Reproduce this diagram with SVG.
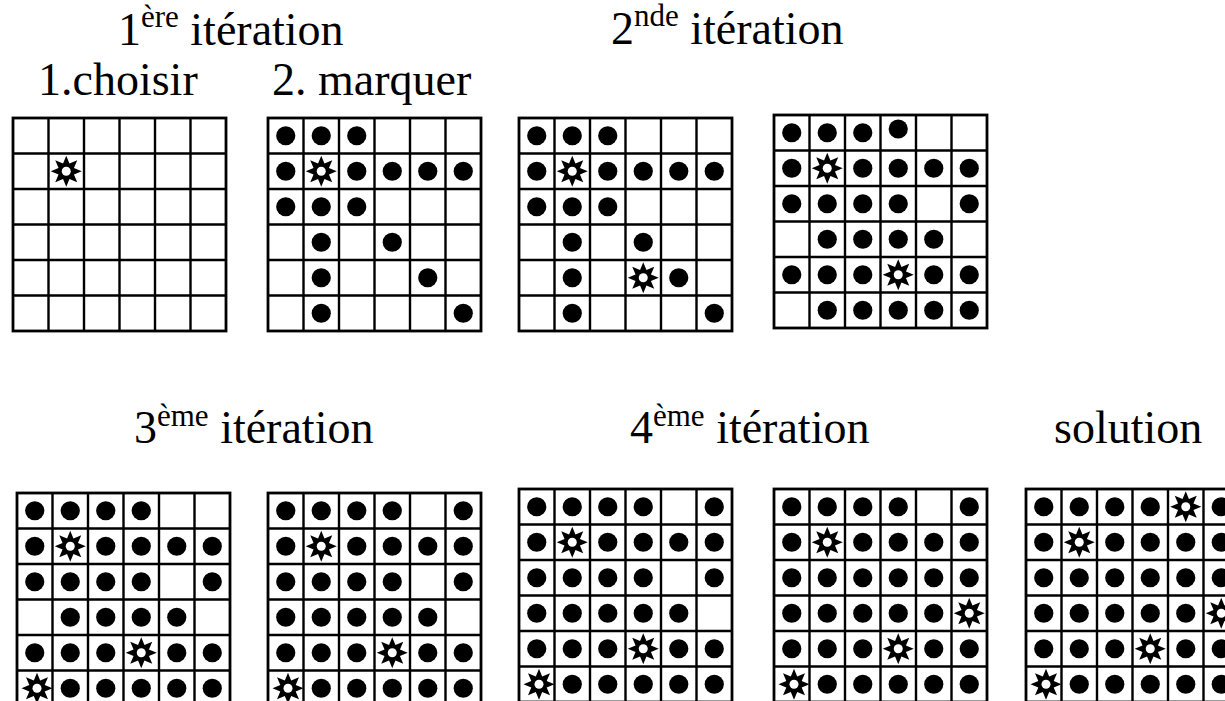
<svg xmlns="http://www.w3.org/2000/svg" width="1225" height="701" viewBox="0 0 1225 701">
<style>
text{font-family:'Liberation Serif','Times New Roman','DejaVu Serif',serif;font-size:46px;fill:#000}
.sup{font-size:31px}
.gl{fill:none;stroke:#000;stroke-width:2.4}
.frame{fill:#fff;stroke:#000;stroke-width:2.8}
</style>
<defs>
<g id="grid">
<rect class="frame" x="0" y="0" width="213" height="213"/>
<path class="gl" d="M35.5 0V213M71 0V213M106.5 0V213M142 0V213M177.5 0V213M0 35.5H213M0 71H213M0 106.5H213M0 142H213M0 177.5H213"/>
</g>
<circle id="d" cx="0" cy="0" r="9.6" fill="#000"/>
<g id="s">
<polygon fill="#000" points="0,-15.5 3.2,-7.7 11,-11 7.7,-3.2 15.5,0 7.7,3.2 11,11 3.2,7.7 0,15.5 -3.2,7.7 -11,11 -7.7,3.2 -15.5,0 -7.7,-3.2 -11,-11 -3.2,-7.7"/>
<circle cx="0" cy="0" r="4.5" fill="#fff"/>
</g>
</defs>

<g id="titles">
<text x="118" y="45">1<tspan class="sup" dy="-18">ère</tspan><tspan dy="18"> itération</tspan></text>
<text x="38" y="95">1.choisir</text>
<text x="272" y="95">2. marquer</text>
<text x="611" y="44">2<tspan class="sup" dy="-18">nde</tspan><tspan dy="18"> itération</tspan></text>
<text x="134" y="443">3<tspan class="sup" dy="-17">ème</tspan><tspan dy="17"> itération</tspan></text>
<text x="630" y="443">4<tspan class="sup" dy="-17">ème</tspan><tspan dy="17"> itération</tspan></text>
<text x="1054" y="443">solution</text>
</g>

<g id="g1" transform="translate(13,118)">
<use href="#grid"/>
<use href="#s" x="53.25" y="53.25"/>
</g>

<g id="g2" transform="translate(268,118)">
<use href="#grid"/>
<use href="#d" x="17.75" y="17.75"/><use href="#d" x="53.25" y="17.75"/><use href="#d" x="88.75" y="17.75"/>
<use href="#d" x="17.75" y="53.25"/><use href="#s" x="53.25" y="53.25"/><use href="#d" x="88.75" y="53.25"/><use href="#d" x="124.25" y="53.25"/><use href="#d" x="159.75" y="53.25"/><use href="#d" x="195.25" y="53.25"/>
<use href="#d" x="17.75" y="88.75"/><use href="#d" x="53.25" y="88.75"/><use href="#d" x="88.75" y="88.75"/>
<use href="#d" x="53.25" y="124.25"/><use href="#d" x="124.25" y="124.25"/>
<use href="#d" x="53.25" y="159.75"/><use href="#d" x="159.75" y="159.75"/>
<use href="#d" x="53.25" y="195.25"/><use href="#d" x="195.25" y="195.25"/>
</g>

<g id="g3" transform="translate(519,118)">
<use href="#grid"/>
<use href="#d" x="17.75" y="17.75"/><use href="#d" x="53.25" y="17.75"/><use href="#d" x="88.75" y="17.75"/>
<use href="#d" x="17.75" y="53.25"/><use href="#s" x="53.25" y="53.25"/><use href="#d" x="88.75" y="53.25"/><use href="#d" x="124.25" y="53.25"/><use href="#d" x="159.75" y="53.25"/><use href="#d" x="195.25" y="53.25"/>
<use href="#d" x="17.75" y="88.75"/><use href="#d" x="53.25" y="88.75"/><use href="#d" x="88.75" y="88.75"/>
<use href="#d" x="53.25" y="124.25"/><use href="#d" x="124.25" y="124.25"/>
<use href="#d" x="53.25" y="159.75"/><use href="#s" x="124.25" y="159.75"/><use href="#d" x="159.75" y="159.75"/>
<use href="#d" x="53.25" y="195.25"/><use href="#d" x="195.25" y="195.25"/>
</g>

<g id="g4" transform="translate(774,115)">
<use href="#grid"/>
<use href="#d" x="17.75" y="17.75"/><use href="#d" x="53.25" y="17.75"/><use href="#d" x="88.75" y="17.75"/><use href="#d" x="124.25" y="14"/>
<use href="#d" x="17.75" y="53.25"/><use href="#s" x="53.25" y="53.25"/><use href="#d" x="88.75" y="53.25"/><use href="#d" x="124.25" y="53.25"/><use href="#d" x="159.75" y="53.25"/><use href="#d" x="195.25" y="53.25"/>
<use href="#d" x="17.75" y="88.75"/><use href="#d" x="53.25" y="88.75"/><use href="#d" x="88.75" y="88.75"/><use href="#d" x="124.25" y="88.75"/><use href="#d" x="195.25" y="88.75"/>
<use href="#d" x="53.25" y="124.25"/><use href="#d" x="88.75" y="124.25"/><use href="#d" x="124.25" y="124.25"/><use href="#d" x="159.75" y="124.25"/>
<use href="#d" x="17.75" y="159.75"/><use href="#d" x="53.25" y="159.75"/><use href="#d" x="88.75" y="159.75"/><use href="#s" x="124.25" y="159.75"/><use href="#d" x="159.75" y="159.75"/><use href="#d" x="195.25" y="159.75"/>
<use href="#d" x="53.25" y="195.25"/><use href="#d" x="88.75" y="195.25"/><use href="#d" x="124.25" y="195.25"/><use href="#d" x="159.75" y="195.25"/><use href="#d" x="195.25" y="195.25"/>
</g>

<g id="g5" transform="translate(17,493)">
<use href="#grid"/>
<use href="#d" x="17.75" y="17.75"/><use href="#d" x="53.25" y="17.75"/><use href="#d" x="88.75" y="17.75"/><use href="#d" x="124.25" y="17.75"/>
<use href="#d" x="17.75" y="53.25"/><use href="#s" x="53.25" y="53.25"/><use href="#d" x="88.75" y="53.25"/><use href="#d" x="124.25" y="53.25"/><use href="#d" x="159.75" y="53.25"/><use href="#d" x="195.25" y="53.25"/>
<use href="#d" x="17.75" y="88.75"/><use href="#d" x="53.25" y="88.75"/><use href="#d" x="88.75" y="88.75"/><use href="#d" x="124.25" y="88.75"/><use href="#d" x="195.25" y="88.75"/>
<use href="#d" x="53.25" y="124.25"/><use href="#d" x="88.75" y="124.25"/><use href="#d" x="124.25" y="124.25"/><use href="#d" x="159.75" y="124.25"/>
<use href="#d" x="17.75" y="159.75"/><use href="#d" x="53.25" y="159.75"/><use href="#d" x="88.75" y="159.75"/><use href="#s" x="124.25" y="159.75"/><use href="#d" x="159.75" y="159.75"/><use href="#d" x="195.25" y="159.75"/>
<use href="#s" x="20" y="195.25"/><use href="#d" x="53.25" y="195.25"/><use href="#d" x="88.75" y="195.25"/><use href="#d" x="124.25" y="195.25"/><use href="#d" x="159.75" y="195.25"/><use href="#d" x="195.25" y="195.25"/>
</g>

<g id="g6" transform="translate(268,493)">
<use href="#grid"/>
<use href="#d" x="17.75" y="17.75"/><use href="#d" x="53.25" y="17.75"/><use href="#d" x="88.75" y="17.75"/><use href="#d" x="124.25" y="17.75"/><use href="#d" x="195.25" y="17.75"/>
<use href="#d" x="17.75" y="53.25"/><use href="#s" x="53.25" y="53.25"/><use href="#d" x="88.75" y="53.25"/><use href="#d" x="124.25" y="53.25"/><use href="#d" x="159.75" y="53.25"/><use href="#d" x="195.25" y="53.25"/>
<use href="#d" x="17.75" y="88.75"/><use href="#d" x="53.25" y="88.75"/><use href="#d" x="88.75" y="88.75"/><use href="#d" x="124.25" y="88.75"/><use href="#d" x="195.25" y="88.75"/>
<use href="#d" x="17.75" y="124.25"/><use href="#d" x="53.25" y="124.25"/><use href="#d" x="88.75" y="124.25"/><use href="#d" x="124.25" y="124.25"/><use href="#d" x="159.75" y="124.25"/>
<use href="#d" x="17.75" y="159.75"/><use href="#d" x="53.25" y="159.75"/><use href="#d" x="88.75" y="159.75"/><use href="#s" x="124.25" y="159.75"/><use href="#d" x="159.75" y="159.75"/><use href="#d" x="195.25" y="159.75"/>
<use href="#s" x="20" y="195.25"/><use href="#d" x="53.25" y="195.25"/><use href="#d" x="88.75" y="195.25"/><use href="#d" x="124.25" y="195.25"/><use href="#d" x="159.75" y="195.25"/><use href="#d" x="195.25" y="195.25"/>
</g>

<g id="g7" transform="translate(519,489)">
<use href="#grid"/>
<use href="#d" x="17.75" y="17.75"/><use href="#d" x="53.25" y="17.75"/><use href="#d" x="88.75" y="17.75"/><use href="#d" x="124.25" y="17.75"/><use href="#d" x="195.25" y="17.75"/>
<use href="#d" x="17.75" y="53.25"/><use href="#s" x="53.25" y="53.25"/><use href="#d" x="88.75" y="53.25"/><use href="#d" x="124.25" y="53.25"/><use href="#d" x="159.75" y="53.25"/><use href="#d" x="195.25" y="53.25"/>
<use href="#d" x="17.75" y="88.75"/><use href="#d" x="53.25" y="88.75"/><use href="#d" x="88.75" y="88.75"/><use href="#d" x="124.25" y="88.75"/><use href="#d" x="195.25" y="88.75"/>
<use href="#d" x="17.75" y="124.25"/><use href="#d" x="53.25" y="124.25"/><use href="#d" x="88.75" y="124.25"/><use href="#d" x="124.25" y="124.25"/><use href="#d" x="159.75" y="124.25"/>
<use href="#d" x="17.75" y="159.75"/><use href="#d" x="53.25" y="159.75"/><use href="#d" x="88.75" y="159.75"/><use href="#s" x="124.25" y="159.75"/><use href="#d" x="159.75" y="159.75"/><use href="#d" x="195.25" y="159.75"/>
<use href="#s" x="20" y="195.25"/><use href="#d" x="53.25" y="195.25"/><use href="#d" x="88.75" y="195.25"/><use href="#d" x="124.25" y="195.25"/><use href="#d" x="159.75" y="195.25"/><use href="#d" x="195.25" y="195.25"/>
</g>

<g id="g8" transform="translate(774,489)">
<use href="#grid"/>
<use href="#d" x="17.75" y="17.75"/><use href="#d" x="53.25" y="17.75"/><use href="#d" x="88.75" y="17.75"/><use href="#d" x="124.25" y="17.75"/><use href="#d" x="195.25" y="17.75"/>
<use href="#d" x="17.75" y="53.25"/><use href="#s" x="53.25" y="53.25"/><use href="#d" x="88.75" y="53.25"/><use href="#d" x="124.25" y="53.25"/><use href="#d" x="159.75" y="53.25"/><use href="#d" x="195.25" y="53.25"/>
<use href="#d" x="17.75" y="88.75"/><use href="#d" x="53.25" y="88.75"/><use href="#d" x="88.75" y="88.75"/><use href="#d" x="124.25" y="88.75"/><use href="#d" x="159.75" y="88.75"/><use href="#d" x="195.25" y="88.75"/>
<use href="#d" x="17.75" y="124.25"/><use href="#d" x="53.25" y="124.25"/><use href="#d" x="88.75" y="124.25"/><use href="#d" x="124.25" y="124.25"/><use href="#d" x="159.75" y="124.25"/><use href="#s" x="195.25" y="124.25"/>
<use href="#d" x="17.75" y="159.75"/><use href="#d" x="53.25" y="159.75"/><use href="#d" x="88.75" y="159.75"/><use href="#s" x="124.25" y="159.75"/><use href="#d" x="159.75" y="159.75"/><use href="#d" x="195.25" y="159.75"/>
<use href="#s" x="20" y="195.25"/><use href="#d" x="53.25" y="195.25"/><use href="#d" x="88.75" y="195.25"/><use href="#d" x="124.25" y="195.25"/><use href="#d" x="159.75" y="195.25"/><use href="#d" x="195.25" y="195.25"/>
</g>

<g id="g9" transform="translate(1026,489)">
<use href="#grid"/>
<use href="#d" x="17.75" y="17.75"/><use href="#d" x="53.25" y="17.75"/><use href="#d" x="88.75" y="17.75"/><use href="#d" x="124.25" y="17.75"/><use href="#s" x="159.75" y="17.75"/><use href="#d" x="195.25" y="17.75"/>
<use href="#d" x="17.75" y="53.25"/><use href="#s" x="53.25" y="53.25"/><use href="#d" x="88.75" y="53.25"/><use href="#d" x="124.25" y="53.25"/><use href="#d" x="159.75" y="53.25"/><use href="#d" x="195.25" y="53.25"/>
<use href="#d" x="17.75" y="88.75"/><use href="#d" x="53.25" y="88.75"/><use href="#d" x="88.75" y="88.75"/><use href="#d" x="124.25" y="88.75"/><use href="#d" x="159.75" y="88.75"/><use href="#d" x="195.25" y="88.75"/>
<use href="#d" x="17.75" y="124.25"/><use href="#d" x="53.25" y="124.25"/><use href="#d" x="88.75" y="124.25"/><use href="#d" x="124.25" y="124.25"/><use href="#d" x="159.75" y="124.25"/><use href="#s" x="195.25" y="124.25"/>
<use href="#d" x="17.75" y="159.75"/><use href="#d" x="53.25" y="159.75"/><use href="#d" x="88.75" y="159.75"/><use href="#s" x="124.25" y="159.75"/><use href="#d" x="159.75" y="159.75"/><use href="#d" x="195.25" y="159.75"/>
<use href="#s" x="20" y="195.25"/><use href="#d" x="53.25" y="195.25"/><use href="#d" x="88.75" y="195.25"/><use href="#d" x="124.25" y="195.25"/><use href="#d" x="159.75" y="195.25"/><use href="#d" x="195.25" y="195.25"/>
</g>
</svg>
